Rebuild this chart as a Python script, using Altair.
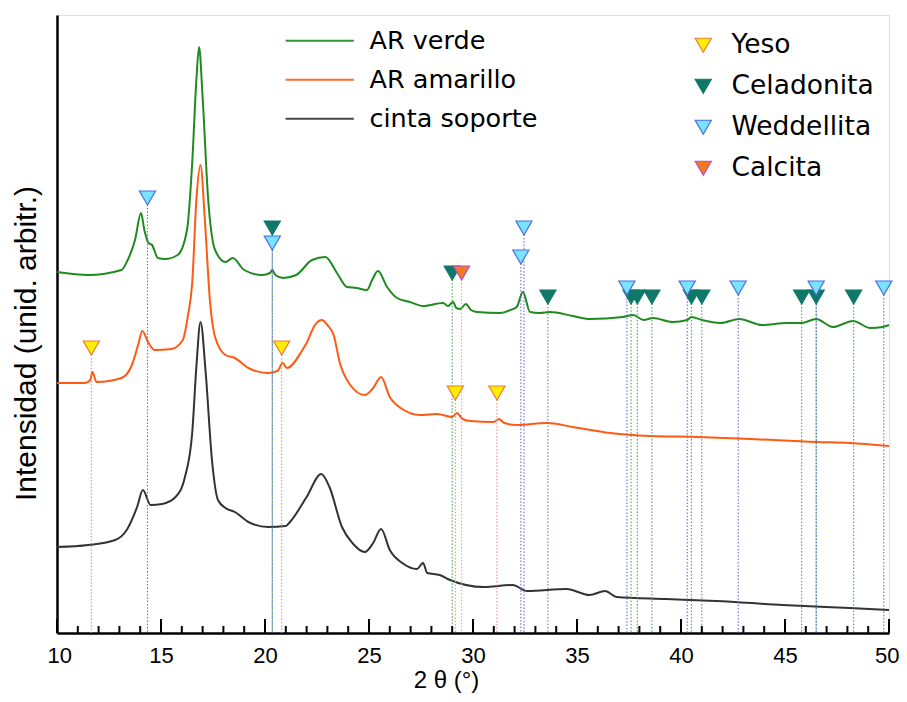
import altair as alt
import pandas as pd

# ---------------- data ----------------
series_names = ["AR verde", "AR amarillo", "cinta soporte"]
mineral_names = ["Yeso", "Celadonita", "Weddellita", "Calcita"]

verde_2theta = [10.0, 11.5, 13.1, 13.4, 13.75, 14.04, 14.2, 14.4, 14.57, 14.85, 15.2, 15.8,
                16.25, 16.5, 16.7, 16.83, 17.0, 17.26, 17.6, 18.1, 18.45, 19.0, 19.85, 20.24,
                20.35, 20.5, 20.87, 21.5, 22.26, 22.9, 23.46, 23.94, 24.4, 24.9, 25.15, 25.43,
                25.87, 26.35, 26.97, 27.6, 28.56, 28.8, 29.04, 29.2, 29.38, 29.66, 29.9, 30.2,
                31.3, 31.8, 32.1, 32.4, 32.74, 33.2, 33.7, 34.8, 35.6, 37.2, 37.7, 38.2, 38.65,
                39.6, 40.3, 40.5, 41.0, 41.9, 42.8, 43.9, 45.1, 45.8, 46.5, 47.3, 48.27, 49.1,
                49.7, 50.0]
verde_int = [361, 358, 363, 373, 393, 420, 403, 390, 388, 375, 374, 378,
             403, 470, 553, 586, 536, 436, 383, 371, 375, 363, 358, 360,
             363, 358, 355, 358, 373, 376, 360, 346, 345, 343, 353, 362,
             346, 335, 331, 327, 330, 327, 331, 325, 324, 329, 323, 321,
             320, 323, 326, 341, 321, 320, 321, 317, 314, 316, 318, 313, 315,
             311, 313, 316, 313, 310, 314, 308, 310, 310, 314, 306, 312, 305,
             306, 308]

amarillo_2theta = [10.0, 11.35, 11.6, 11.7, 11.9, 13.1, 13.6, 13.9, 14.1, 14.4, 14.7, 15.5,
                   16.05, 16.3, 16.5, 16.7, 16.9, 17.1, 17.35, 17.6, 18.1, 18.55, 19.2, 20.15,
                   20.6, 20.85, 21.05, 21.8, 22.0, 22.4, 22.74, 23.0, 23.3, 23.6, 24.1, 24.8,
                   25.2, 25.58, 26.0, 26.6, 27.45, 28.27, 29.0, 29.23, 29.5, 29.86, 31.0, 31.25,
                   31.5, 32.1, 33.56, 34.8, 36.6, 38.5, 40.8, 43.3, 46.5, 48.1, 50.0]
amarillo_int = [250, 250, 253, 261, 251, 255, 268, 288, 302, 290, 283, 284,
                293, 318, 350, 433, 468, 416, 333, 296, 278, 275, 265, 260,
                262, 270, 265, 283, 290, 308, 313, 308, 298, 270, 248, 238,
                245, 256, 236, 224, 218, 219, 216, 220, 214, 212, 211, 214,
                210, 208, 210, 206, 200, 197, 196, 194, 191, 190, 187]

cinta_2theta = [10.0, 11.5, 12.8, 13.35, 13.85, 14.13, 14.5, 15.05, 15.7, 16.15, 16.5, 16.7,
                16.9, 17.15, 17.45, 17.74, 18.1, 18.55, 19.2, 20.15, 21.0, 21.2, 22.0, 22.7,
                23.1, 23.7, 24.2, 24.8, 25.2, 25.58, 26.0, 26.6, 27.3, 27.6, 27.8, 28.4,
                28.9, 30.5, 31.9, 32.6, 34.5, 35.6, 36.35, 36.9, 39.3, 41.7, 44.9, 48.1, 50.0]
cinta_int = [86, 88, 93, 103, 126, 143, 128, 129, 136, 156, 200, 266,
             311, 260, 173, 133, 125, 121, 111, 106, 107, 111, 136, 159,
             146, 106, 90, 81, 90, 104, 83, 70, 64, 70, 60, 58,
             53, 46, 48, 42, 44, 38, 42, 36, 34, 32, 28, 25, 23]

marker_mineral = ["Yeso", "Yeso", "Yeso", "Yeso",
                  "Celadonita", "Celadonita", "Celadonita", "Celadonita", "Celadonita",
                  "Celadonita", "Celadonita", "Celadonita", "Celadonita", "Celadonita",
                  "Celadonita",
                  "Weddellita", "Weddellita", "Weddellita", "Weddellita", "Weddellita",
                  "Weddellita", "Weddellita", "Weddellita", "Weddellita",
                  "Calcita"]
marker_2theta = [11.65, 20.8, 29.15, 31.15,
                 20.35, 29.0, 33.6, 37.6, 37.9, 38.6, 40.5, 41.0, 45.8, 46.5, 48.3,
                 14.35, 20.35, 32.3, 32.45, 37.4, 40.3, 42.75, 46.5, 49.75,
                 29.45]
marker_int = [285, 285, 240, 240,
              405, 360, 336, 336, 336, 336, 336, 336, 336, 336, 336,
              435, 390, 376, 405, 345, 345, 345, 345, 345,
              360]

x_tick_values = list(range(10, 51))
x_label_values = [10, 15, 20, 25, 30, 35, 40, 45, 50]

# ---------------- tables ----------------
lines_df = pd.concat([
    pd.DataFrame({"two_theta": xs, "intensidad": ys, "serie": name})
    for name, xs, ys in zip(series_names,
                            [verde_2theta, amarillo_2theta, cinta_2theta],
                            [verde_int, amarillo_int, cinta_int])
], ignore_index=True)

markers_df = pd.DataFrame({"two_theta": marker_2theta,
                           "intensidad": marker_int,
                           "mineral": marker_mineral})

major_df = pd.DataFrame({"two_theta": x_label_values})
minor_df = pd.DataFrame({"two_theta": [v for v in x_tick_values if v not in x_label_values]})

# ---------------- styling ----------------
PW, PH = 832, 618
AX_FONT = "Liberation Sans"
LEG_FONT = "DejaVu Sans"

x_scale = alt.Scale(domain=[10, 50], nice=False, zero=False)
y_scale = alt.Scale(domain=[0, PH], nice=False, zero=False)

color_scale = alt.Scale(
    domain=series_names + mineral_names,
    range=["#1f8a1f", "#ff5a14", "#333333",
           "#ee7f7f", "#3f9a3f", "#5b5be0", "#ffa060"])
fill_scale = alt.Scale(domain=mineral_names,
                       range=["#fff000", "#0f7868", "#78e4ff", "#f57a1e"])
stroke_scale = alt.Scale(domain=mineral_names,
                         range=["#f07a30", "#0f7868", "#4a6ee0", "#b050d0"])

line_legend = alt.Legend(
    title=None, orient="none", legendX=250, legendY=13, padding=0,
    symbolType="M-3.1,0H3.1", symbolSize=484, symbolStrokeWidth=2,
    labelOffset=37, labelFont=LEG_FONT, labelFontSize=25.5, labelColor="black",
    labelLimit=400, rowPadding=12, values=series_names)

marker_legend = alt.Legend(
    title=None, orient="none", legendX=633, legendY=17, padding=0,
    symbolType="triangle-down", symbolSize=260, symbolStrokeWidth=1.2,
    labelOffset=15, labelFont=LEG_FONT, labelFontSize=26.5, labelColor="black",
    labelLimit=400, rowPadding=14)

y_axis = alt.Axis(
    title="Intensidad (unid. arbitr.)", labels=False, ticks=False, grid=False,
    domainColor="black", domainWidth=2.5,
    titleFont=AX_FONT, titleFontSize=30, titleFontWeight="normal", titleColor="black",
    titleX=-22, titleY=328, titleAlign="center", titleBaseline="alphabetic", titleAngle=270)

x_axis_bottom = alt.Axis(
    orient="bottom", title="2 θ (°)", values=x_label_values, format="d",
    ticks=False, tickSize=0, grid=False, labelFlush=True, labelFlushOffset=10,
    labelFont=AX_FONT, labelFontSize=22, labelColor="black", labelPadding=12,
    domainColor="black", domainWidth=2.5,
    titleFont=AX_FONT, titleFontSize=24, titleFontWeight="normal", titleColor="black",
    titleX=389, titleY=54, titleAlign="center", titleBaseline="alphabetic")

# ---------------- layers ----------------
lines = alt.Chart(lines_df).mark_line(strokeWidth=2, interpolate="monotone").encode(
    x=alt.X("two_theta:Q", scale=x_scale, axis=x_axis_bottom),
    y=alt.Y("intensidad:Q", scale=y_scale, axis=y_axis),
    color=alt.Color("serie:N", scale=color_scale, legend=line_legend),
)

rules = alt.Chart(markers_df).mark_rule(strokeWidth=1.1, strokeDash=[1.5, 1.8], opacity=0.9).encode(
    x=alt.X("two_theta:Q", scale=x_scale, axis=None),
    y=alt.Y("intensidad:Q", scale=y_scale, axis=y_axis),
    y2=alt.datum(0),
    color=alt.Color("mineral:N", scale=color_scale, legend=line_legend),
)

major_ticks = alt.Chart(major_df).mark_rule(strokeWidth=2, color="black").encode(
    x=alt.X("two_theta:Q", scale=x_scale, axis=None),
    y=alt.YDatum(0, scale=y_scale, axis=y_axis),
    y2=alt.datum(14),
)

minor_ticks = alt.Chart(minor_df).mark_rule(strokeWidth=2, color="black").encode(
    x=alt.X("two_theta:Q", scale=x_scale, axis=None),
    y=alt.YDatum(0, scale=y_scale, axis=y_axis),
    y2=alt.datum(7),
)

markers = alt.Chart(markers_df).mark_point(
    shape="triangle-down", filled=True, size=260, strokeWidth=1.2, opacity=1
).encode(
    x=alt.X("two_theta:Q", scale=x_scale, axis=None),
    y=alt.Y("intensidad:Q", scale=y_scale, axis=y_axis),
    fill=alt.Fill("mineral:N", scale=fill_scale, legend=marker_legend),
    stroke=alt.Stroke("mineral:N", scale=stroke_scale, legend=marker_legend),
)

chart = alt.layer(lines, rules, major_ticks, minor_ticks, markers).resolve_axis(
    x="independent"
).properties(
    width=PW, height=PH, autosize="none",
    padding={"left": 49, "top": 7, "right": 10, "bottom": 60},
).configure_view(stroke="#555555", strokeWidth=2).configure(background="white")

chart.save("out.html", embed_options={"renderer": "svg", "actions": False})
